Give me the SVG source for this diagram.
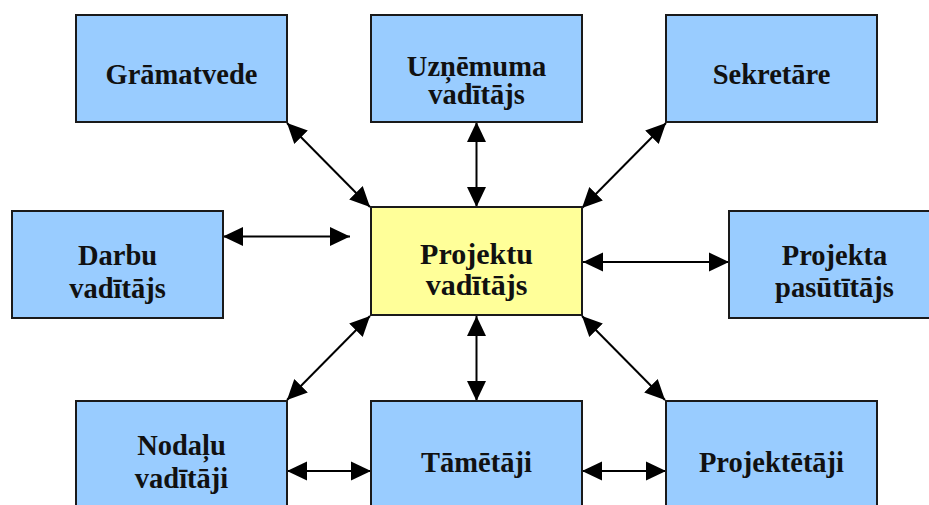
<svg xmlns="http://www.w3.org/2000/svg" width="929" height="505" viewBox="0 0 929 505">
  <defs>
    <style>
      .box { fill: #99CCFF; stroke: #1a1a1a; stroke-width: 2; }
      .hub { fill: #FFFF99; stroke: #1a1a1a; stroke-width: 2; }
      .lbl { font-family: "Liberation Serif", "DejaVu Serif", serif; font-weight: bold; font-size: 28.5px; fill: #111; text-anchor: middle; }
      .lbl-hub { font-size: 30px; }
      .link { stroke: #000; stroke-width: 2; fill: none; marker-start: url(#head); marker-end: url(#head); }
    </style>
    <marker id="head" viewBox="0 0 20 20" refX="20" refY="10" markerWidth="20" markerHeight="20" markerUnits="userSpaceOnUse" orient="auto-start-reverse">
      <path d="M0,0.5 L20,10 L0,19.5 Z" fill="#000"/>
    </marker>
  </defs>
  <rect width="929" height="505" fill="#fff"/>

  <!-- double-headed links -->
  <g id="connectors">
    <line class="link" x1="287" y1="123" x2="370" y2="207"/>
    <line class="link" x1="476.5" y1="122" x2="476.5" y2="207"/>
    <line class="link" x1="666" y1="123" x2="582" y2="208"/>
    <line class="link" x1="223" y1="236.5" x2="350" y2="236.5"/>
    <line class="link" x1="583" y1="262" x2="729" y2="262"/>
    <line class="link" x1="370" y1="316" x2="287" y2="400"/>
    <line class="link" x1="476.5" y1="316" x2="476.5" y2="401"/>
    <line class="link" x1="582" y1="316" x2="665" y2="400"/>
    <line class="link" x1="287" y1="471" x2="371" y2="471"/>
    <line class="link" x1="582" y1="471" x2="666" y2="471"/>
  </g>

  <!-- nodes -->
  <g id="gramatvede">
    <rect class="box" x="76" y="15" width="211" height="107"/>
    <text class="lbl" x="181.5" y="84">Grāmatvede</text>
  </g>
  <g id="uznemuma-vaditajs">
    <rect class="box" x="371" y="15" width="211" height="107"/>
    <text class="lbl" x="476.5" y="76">Uzņēmuma</text>
    <text class="lbl" x="476.5" y="104">vadītājs</text>
  </g>
  <g id="sekretare">
    <rect class="box" x="666" y="15" width="211" height="107"/>
    <text class="lbl" x="771.5" y="84">Sekretāre</text>
  </g>
  <g id="darbu-vaditajs">
    <rect class="box" x="12" y="211" width="211" height="107"/>
    <text class="lbl" x="117.5" y="265">Darbu</text>
    <text class="lbl" x="117.5" y="298">vadītājs</text>
  </g>
  <g id="projektu-vaditajs">
    <rect class="hub" x="371" y="207" width="211" height="108"/>
    <text class="lbl lbl-hub" x="476.5" y="264">Projektu</text>
    <text class="lbl lbl-hub" x="476.5" y="295">vadītājs</text>
  </g>
  <g id="projekta-pasutitajs">
    <rect class="box" x="729" y="211" width="211" height="107"/>
    <text class="lbl" x="834.5" y="265">Projekta</text>
    <text class="lbl" x="834.5" y="297">pasūtītājs</text>
  </g>
  <g id="nodalu-vaditaji">
    <rect class="box" x="76" y="401" width="211" height="107"/>
    <text class="lbl" x="181.5" y="455">Nodaļu</text>
    <text class="lbl" x="181.5" y="488">vadītāji</text>
  </g>
  <g id="tametaji">
    <rect class="box" x="371" y="401" width="211" height="107"/>
    <text class="lbl" x="476.5" y="472">Tāmētāji</text>
  </g>
  <g id="projektetaji">
    <rect class="box" x="666" y="401" width="211" height="107"/>
    <text class="lbl" x="771.5" y="472">Projektētāji</text>
  </g>
</svg>
